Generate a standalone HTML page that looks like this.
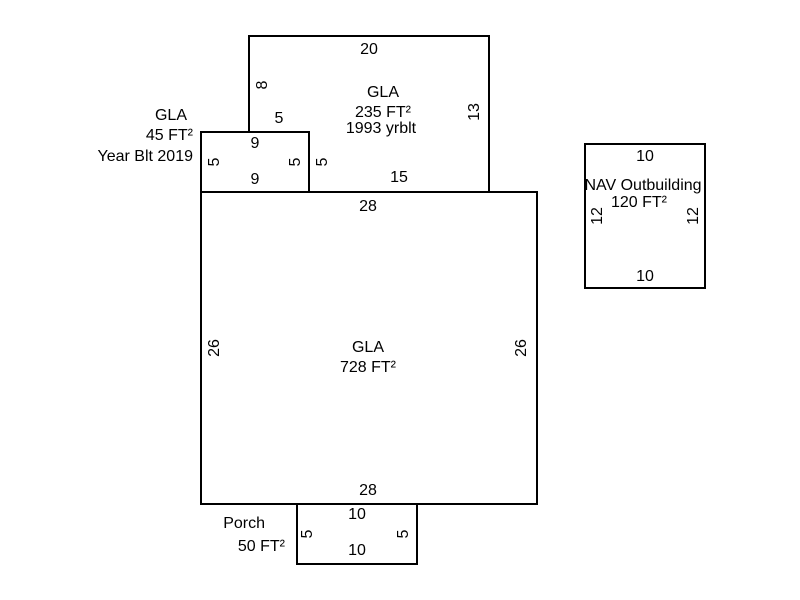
<!DOCTYPE html>
<html><head><style>
html,body{margin:0;padding:0;background:#fff;}
svg{display:block;}
text{font-family:"Liberation Sans",Arial,sans-serif;font-size:16px;fill:#000;}
</style></head><body>
<svg width="800" height="600" viewBox="0 0 800 600">
<g fill="none" stroke="#000" stroke-width="2">
<path d="M249 132 V36 H489 V192 H309"/>
<rect x="201" y="132" width="108" height="60"/>
<rect x="201" y="192" width="336" height="312"/>
<rect x="297" y="504" width="120" height="60"/>
<rect x="585" y="144" width="120" height="144"/>
</g>
<g text-anchor="middle">
<text x="369" y="54">20</text>
<text x="383" y="97">GLA</text>
<text x="383" y="117">235 FT²</text>
<text x="381" y="133">1993 yrblt</text>
<text x="279" y="123">5</text>
<text x="399" y="182">15</text>
<text x="255" y="148">9</text>
<text x="255" y="184">9</text>
<text x="368" y="211">28</text>
<text x="368" y="352">GLA</text>
<text x="368" y="372">728 FT²</text>
<text x="368" y="495">28</text>
<text x="357" y="519">10</text>
<text x="357" y="555">10</text>
<text x="645" y="161">10</text>
<text x="643" y="190">NAV Outbuilding</text>
<text x="639" y="207">120 FT²</text>
<text x="645" y="281">10</text>
</g>
<g text-anchor="end">
<text x="187" y="120">GLA</text>
<text x="193" y="140">45 FT²</text>
<text x="193" y="161">Year Blt 2019</text>
<text x="265" y="528">Porch</text>
<text x="285" y="551">50 FT²</text>
</g>
<g text-anchor="middle">
<text transform="translate(267,85) rotate(-90)">8</text>
<text transform="translate(479,112) rotate(-90)">13</text>
<text transform="translate(219,162) rotate(-90)">5</text>
<text transform="translate(300,162) rotate(-90)">5</text>
<text transform="translate(327,162) rotate(-90)">5</text>
<text transform="translate(219,348) rotate(-90)">26</text>
<text transform="translate(526,348) rotate(-90)">26</text>
<text transform="translate(312,534) rotate(-90)">5</text>
<text transform="translate(408,534) rotate(-90)">5</text>
<text transform="translate(602,216) rotate(-90)">12</text>
<text transform="translate(698,216) rotate(-90)">12</text>
</g>
</svg>
</body></html>
